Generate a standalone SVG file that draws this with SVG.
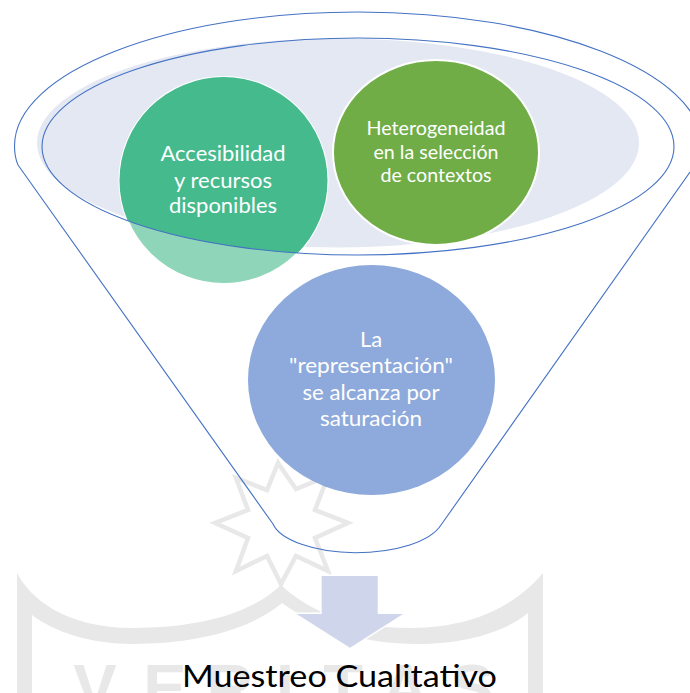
<svg xmlns="http://www.w3.org/2000/svg" width="690" height="693" viewBox="0 0 690 693">
<style>
.wm{fill:none;stroke:#e8e8e8;stroke-linejoin:miter}
.ln{fill:none;stroke:#4472c4;stroke-width:1.1}
.lb{font-family:"Lato","Open Sans","Liberation Sans",sans-serif;fill:#fff;text-anchor:middle;font-size:22px}
.n{stroke:#fff;stroke-width:2}
</style>
<defs>
<clipPath id="inEll"><ellipse cx="358" cy="146.5" rx="316" ry="108.5"/></clipPath>
</defs>
<rect width="690" height="693" fill="#fff"/>
<g id="watermark">
<path class="wm" stroke-width="4.500" d="M278 463L267 490L236 478L248 510L215 523L248 538L236 571L267 556L281 584L296 556L328 571L315 538L348 523L315 510L328 476L296 489Z"/>
<path d="M17 573C30 598 65 628 133 628C195 628 250 615 281 585C310 612 350 628 410 628C480 628 520 600 543 573V693H528V613C505 632 465 644 417 644C365 644 320 630 282 603C250 630 195 644 133 644C90 644 55 632 32 615V693H17Z" fill="#e8e8e8"/>
<text x="95 165 230 285 343 405 472" y="710" font-family="'Liberation Sans',sans-serif" font-weight="bold" font-size="65" fill="#e8e8e8" text-anchor="middle">VERITAS</text>
</g>
<g id="base"><ellipse cx="338" cy="143" rx="301" ry="104.5" fill="#e4e8f3"/></g>
<g id="node-accesibilidad">
<ellipse class="n" cx="223.5" cy="180.5" rx="104" ry="103.5" fill="#8fd5b9"/>
<ellipse cx="223.5" cy="180.5" rx="104" ry="103.5" fill="#45ba8d" clip-path="url(#inEll)"/>
<text class="lb" x="223" y="161" textLength="125" lengthAdjust="spacingAndGlyphs">Accesibilidad</text>
<text class="lb" x="223" y="188" textLength="98" lengthAdjust="spacingAndGlyphs">y recursos</text>
<text class="lb" x="223" y="213" textLength="108" lengthAdjust="spacingAndGlyphs">disponibles</text>
</g>
<g id="node-heterogeneidad">
<ellipse class="n" cx="436" cy="152.5" rx="103" ry="92.5" fill="#70ad47"/>
<text class="lb" style="font-size:20px" x="436" y="135" textLength="139" lengthAdjust="spacingAndGlyphs">Heterogeneidad</text>
<text class="lb" style="font-size:20px" x="436" y="159" textLength="125" lengthAdjust="spacingAndGlyphs">en la selección</text>
<text class="lb" style="font-size:20px" x="436" y="182" textLength="111" lengthAdjust="spacingAndGlyphs">de contextos</text>
</g>
<g id="node-representacion">
<ellipse cx="371.5" cy="380" rx="123.5" ry="115" fill="#8ea9db"/>
<text class="lb" x="371" y="347">La</text>
<text class="lb" x="371" y="373" textLength="164" lengthAdjust="spacingAndGlyphs">"representación"</text>
<text class="lb" x="371" y="400" textLength="137" lengthAdjust="spacingAndGlyphs">se alcanza por</text>
<text class="lb" x="371" y="426" textLength="102" lengthAdjust="spacingAndGlyphs">saturación</text>
</g>
<g id="connectors">
<path class="ln" d="M18 165C15 158 14.500 152 14.500 146C14.500 72 168 12 358 12C548 12 702 72 702 146"/>
<path class="ln" d="M18 165L273 524C280 540 315 552.700 355 552.700C395 552.700 430 542 441 525L690 172"/>
<ellipse class="ln" cx="358" cy="146.500" rx="316" ry="108.500"/>
<path id="arrow" d="M321.700 576H377.700V614H403L350 647.700L296.700 614H321.700Z" fill="#cfd5ea" stroke="#fff" stroke-width="3" paint-order="stroke"/>
</g>
<text id="caption" x="339.500" y="686.500" text-anchor="middle" font-family="Lato,'Open Sans','Liberation Sans',sans-serif" font-size="31" fill="#000" textLength="315" lengthAdjust="spacingAndGlyphs">Muestreo Cualitativo</text>
</svg>
